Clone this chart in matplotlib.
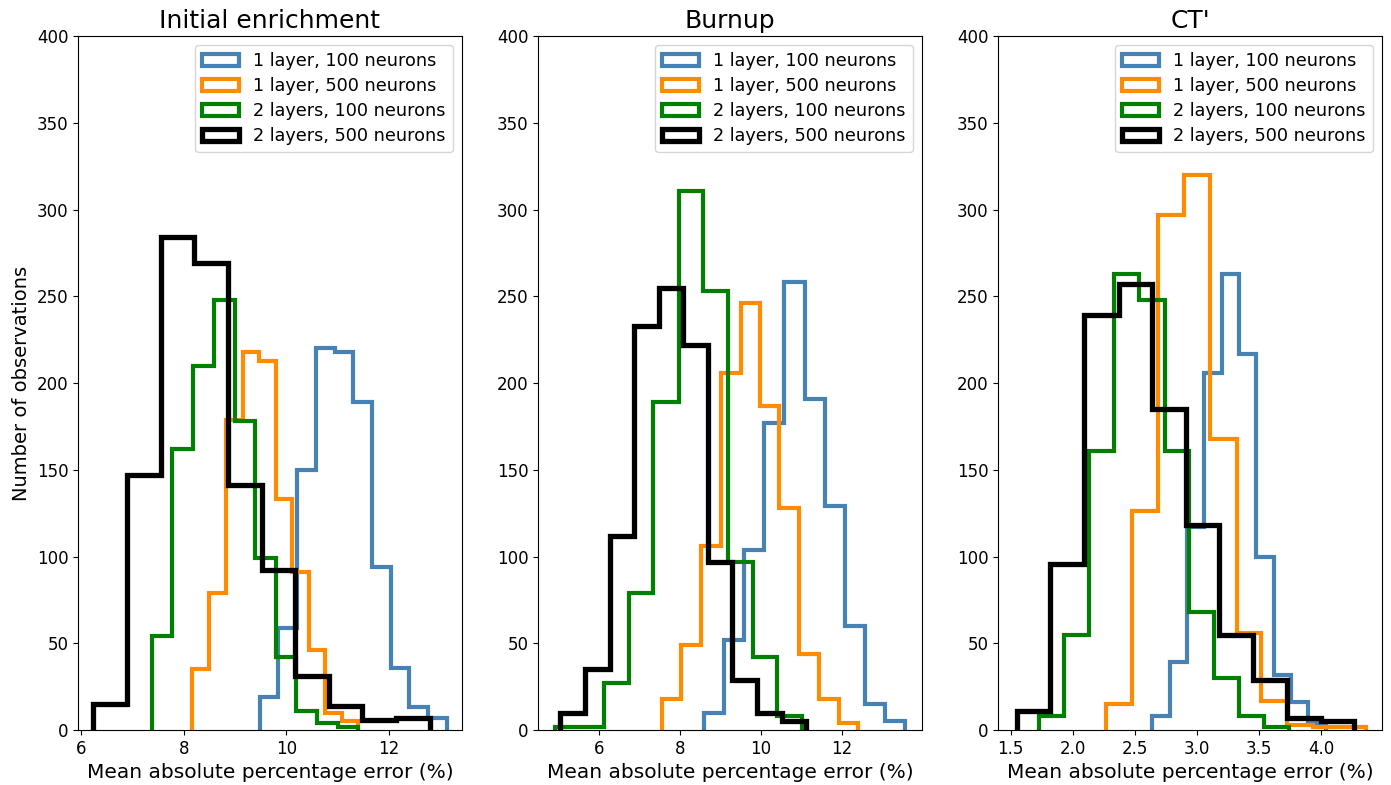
import numpy as np
import matplotlib
matplotlib.use("Agg")
import matplotlib.pyplot as plt

# Daten: Bin-Kanten und Anzahl pro Bin
labels = ["1 layer, 100 neurons", "1 layer, 500 neurons",
          "2 layers, 100 neurons", "2 layers, 500 neurons"]
titles = ["Initial enrichment", "Burnup", "CT'"]

# --- Initial enrichment ---
enr_blue_edges = [9.48, 9.84, 10.21, 10.57, 10.94, 11.30, 11.66, 12.03, 12.39, 12.76, 13.12]
enr_blue_counts = [19, 59, 150, 220, 218, 189, 94, 36, 13, 7]
enr_orange_edges = [8.17, 8.50, 8.82, 9.15, 9.47, 9.79, 10.11, 10.43, 10.76, 11.08, 11.40]
enr_orange_counts = [35, 79, 179, 218, 213, 133, 91, 46, 10, 5]
enr_green_edges = [7.38, 7.78, 8.18, 8.59, 8.99, 9.39, 9.79, 10.19, 10.60, 11.00, 11.40]
enr_green_counts = [54, 162, 210, 248, 178, 99, 42, 11, 4, 2]
enr_black_edges = [6.24, 6.90, 7.55, 8.21, 8.86, 9.52, 10.17, 10.83, 11.48, 12.14, 12.79]
enr_black_counts = [15, 147, 284, 269, 141, 92, 31, 14, 6, 7]

# --- Burnup ---
bu_blue_edges = [8.59, 9.09, 9.59, 10.08, 10.58, 11.08, 11.58, 12.08, 12.57, 13.07, 13.57]
bu_blue_counts = [10, 52, 104, 177, 258, 191, 129, 60, 15, 5]
bu_orange_edges = [7.56, 8.04, 8.53, 9.01, 9.50, 9.98, 10.46, 10.95, 11.43, 11.92, 12.40]
bu_orange_counts = [18, 49, 106, 206, 246, 187, 128, 44, 18, 4]
bu_green_edges = [4.91, 5.52, 6.13, 6.74, 7.35, 7.97, 8.58, 9.19, 9.80, 10.41, 11.02]
bu_green_counts = [2, 2, 27, 79, 189, 311, 253, 97, 42, 8]
bu_black_edges = [5.05, 5.66, 6.27, 6.87, 7.48, 8.09, 8.70, 9.30, 9.91, 10.52, 11.12]
bu_black_counts = [10, 35, 112, 233, 255, 222, 97, 29, 10, 5]

# --- CT' ---
ct_blue_edges = [2.64, 2.78, 2.92, 3.06, 3.20, 3.34, 3.48, 3.62, 3.76, 3.90, 4.04]
ct_blue_counts = [8, 39, 117, 206, 263, 217, 100, 32, 16, 4]
ct_orange_edges = [2.27, 2.48, 2.69, 2.90, 3.11, 3.32, 3.52, 3.73, 3.94, 4.15, 4.36]
ct_orange_counts = [15, 126, 297, 320, 168, 56, 17, 3, 2, 2]
ct_green_edges = [1.73, 1.93, 2.13, 2.33, 2.53, 2.74, 2.94, 3.14, 3.34, 3.54, 3.74]
ct_green_counts = [8, 55, 161, 263, 248, 161, 68, 30, 8, 2]
ct_black_edges = [1.55, 1.82, 2.09, 2.37, 2.64, 2.91, 3.18, 3.45, 3.73, 4.00, 4.27]
ct_black_counts = [11, 96, 239, 257, 185, 118, 55, 29, 7, 5]

# x-Bereiche wie im Original
x_bereiche = [(5.95, 13.41), (4.51, 13.97), (1.40, 4.49)]

farben = ["steelblue", "darkorange", "green", "black"]
breiten = [3, 3, 3, 3.8]

panels = [
    [(enr_blue_edges, enr_blue_counts), (enr_orange_edges, enr_orange_counts),
     (enr_green_edges, enr_green_counts), (enr_black_edges, enr_black_counts)],
    [(bu_blue_edges, bu_blue_counts), (bu_orange_edges, bu_orange_counts),
     (bu_green_edges, bu_green_counts), (bu_black_edges, bu_black_counts)],
    [(ct_blue_edges, ct_blue_counts), (ct_orange_edges, ct_orange_counts),
     (ct_green_edges, ct_green_counts), (ct_black_edges, ct_black_counts)],
]

fig, axes = plt.subplots(1, 3, figsize=(13.91, 7.85), dpi=100)
fig.subplots_adjust(left=0.0563, right=0.9933, bottom=0.070, top=0.954, wspace=0.2)

for ax, titel, serien, xb in zip(axes, titles, panels, x_bereiche):
    for (kanten, werte), farbe, lw, lab in zip(serien, farben, breiten, labels):
        kanten = np.array(kanten)
        ax.hist(kanten[:-1], bins=kanten, weights=werte, histtype="step",
                color=farbe, linewidth=lw, label=lab)
    ax.set_xlim(*xb)
    ax.set_ylim(0, 400)
    ax.set_title(titel, fontsize=18)
    ax.set_xlabel("Mean absolute percentage error (%)", fontsize=14.5)
    ax.tick_params(labelsize=12)
    ax.legend(loc="upper right", fontsize=12.7, labelspacing=0.4, handlelength=2.1)

axes[0].set_ylabel("Number of observations", fontsize=14)

fig.savefig("out.png", dpi=100)
